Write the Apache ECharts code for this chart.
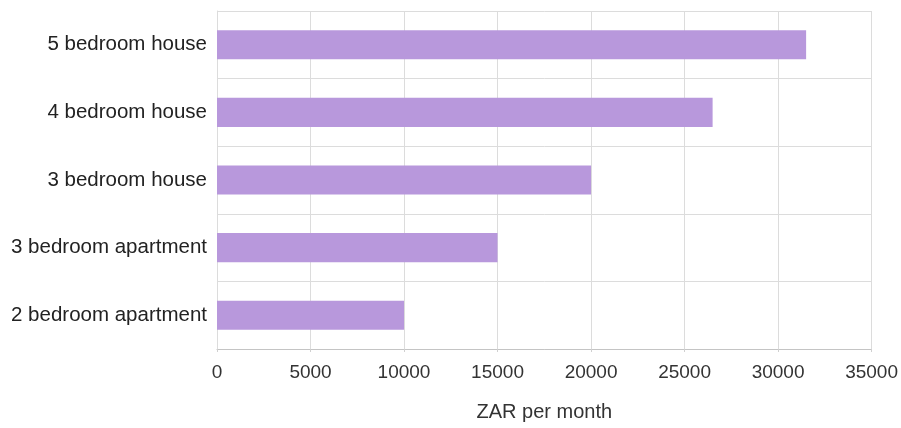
<!DOCTYPE html>
<html>
<head>
<meta charset="utf-8">
<script src="https://cdn.jsdelivr.net/npm/echarts@6/dist/echarts.min.js"></script>
<style>html,body{margin:0;padding:0;background:#fff}#c{width:901px;height:428px}</style>
</head>
<body>
<div id="c"></div>
<script>
var categories = ['2 bedroom apartment', '3 bedroom apartment', '3 bedroom house', '4 bedroom house', '5 bedroom house'];
var rentValues = [10000, 15000, 20000, 26500, 31500];
var axisTitle = 'ZAR per month';

var chart = echarts.init(document.getElementById('c'), null, {renderer: 'canvas'});
chart.setOption({
  animation: false,
  backgroundColor: '#fff',
  grid: {left: 217, right: 28, top: 11, bottom: 79, containLabel: false},
  xAxis: {
    type: 'value', min: 0, max: 35000, interval: 5000,
    name: axisTitle, nameLocation: 'middle', nameGap: 53,
    nameTextStyle: {fontFamily: 'Liberation Sans, Arial', fontSize: 20, color: '#333'},
    axisLine: {show: true, lineStyle: {color: '#c4c4c4', width: 1}},
    axisTick: {show: true, length: 3, lineStyle: {color: '#d0d0d0'}},
    axisLabel: {fontFamily: 'Liberation Sans, Arial', fontSize: 19, color: '#333', margin: 14,
      formatter: function (v) { return String(v); }},
    splitLine: {show: true, lineStyle: {color: '#dcdcdc', width: 1}}
  },
  yAxis: {
    type: 'category', data: categories,
    axisLine: {show: true, lineStyle: {color: '#dcdcdc'}},
    axisTick: {show: false},
    axisLabel: {fontFamily: 'Liberation Sans, Arial', fontSize: 20.5, color: '#222', margin: 10},
    splitLine: {show: true, lineStyle: {color: '#dcdcdc', width: 1}}
  },
  series: [{
    type: 'bar', data: rentValues, barCategoryGap: '57%',
    itemStyle: {color: '#b898dc'}
  }]
});
</script>
</body>
</html>
